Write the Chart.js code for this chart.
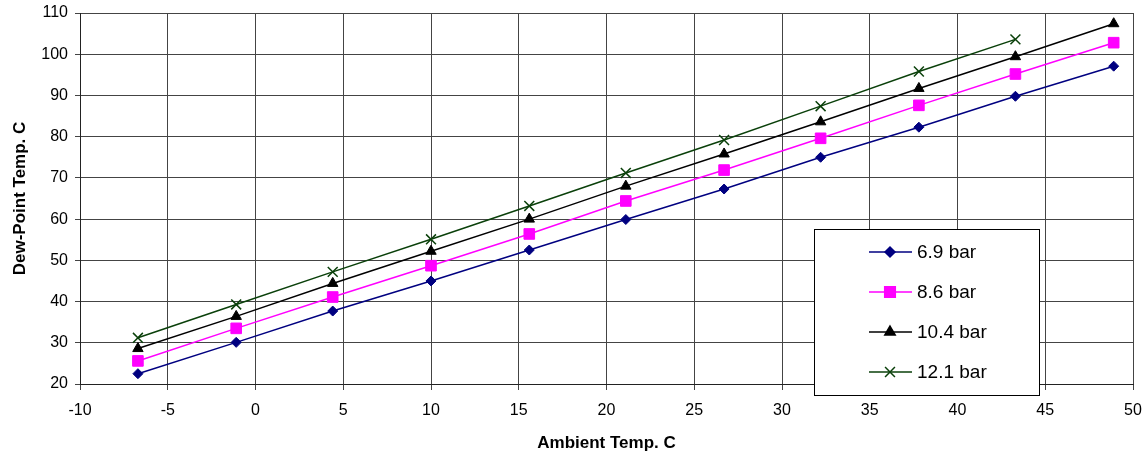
<!DOCTYPE html>
<html>
<head>
<meta charset="utf-8">
<script src="https://cdn.jsdelivr.net/npm/chart.js@4.4.1/dist/chart.umd.min.js"></script>
<style>
  html, body { margin: 0; padding: 0; background: #fff; }
  #wrap { width: 1147px; height: 455px; position: relative; }
</style>
</head>
<body>
<div id="wrap"><canvas id="dewChart" width="1147" height="455"></canvas></div>
<script>
// ambient temperature (C) -> dew-point temperature (C) per line pressure
const ambient = [-6.7, -1.1, 4.4, 10, 15.6, 21.1, 26.7, 32.2, 37.8, 43.3, 48.9];
const bar69 = [22.5, 30.1, 37.7, 45.0, 52.5, 59.9, 67.3, 75.0, 82.3, 89.8, 97.1];
const bar86 = [25.6, 33.5, 41.1, 48.7, 56.4, 64.4, 71.9, 79.6, 87.6, 95.2, 102.8];
const bar104 = [28.6, 36.4, 44.4, 52.2, 60.0, 68.0, 75.8, 83.6, 91.7, 99.4, 107.4];
const bar121 = [31.2, 39.3, 47.2, 55.1, 63.2, 71.2, 79.2, 87.4, 95.8, 103.6];
const seriesNames = ['6.9 bar', '8.6 bar', '10.4 bar', '12.1 bar'];

const xTicks = { min: -10, max: 50, step: 5 };
const yTicks = { min: 20, max: 110, step: 10 };

function pts(values) {
  return values.map(function (v, i) { return { x: ambient[i], y: v }; });
}

const styles = [
  { color: '#000080', pointStyle: 'rectRot', radius: 5 },
  { color: '#ff00ff', pointStyle: 'rect', radius: 7.5 },
  { color: '#000000', pointStyle: 'triangle', radius: 6 },
  { color: '#0a400a', pointStyle: 'crossRot', radius: 7 }
];

const allSeries = [bar69, bar86, bar104, bar121];

const data = {
  datasets: allSeries.map(function (vals, i) {
    const s = styles[i];
    return {
      label: seriesNames[i],
      data: pts(vals),
      borderColor: s.color,
      backgroundColor: s.color,
      borderWidth: 1.5,
      pointStyle: s.pointStyle,
      pointRadius: s.radius,
      pointBorderWidth: s.pointStyle === 'crossRot' ? 1.5 : 1,
      pointBorderColor: s.color,
      pointBackgroundColor: s.color,
      tension: 0
    };
  })
};

// legend box drawn by hand so it can sit over the lower right of the plot
const boxLegend = {
  id: 'boxLegend',
  afterDraw(chart) {
    const ctx = chart.ctx;
    const left = 814, top = 229, w = 225, h = 166;
    ctx.save();
    ctx.fillStyle = '#fff';
    ctx.fillRect(left, top, w, h);
    ctx.strokeStyle = '#000';
    ctx.lineWidth = 1;
    ctx.strokeRect(left + 0.5, top + 0.5, w, h);
    ctx.font = '19px "Liberation Sans", Arial, sans-serif';
    ctx.textBaseline = 'middle';
    ctx.textAlign = 'left';
    for (let i = 0; i < seriesNames.length; i++) {
      const s = styles[i];
      const y = 252 + i * 40;
      ctx.strokeStyle = s.color;
      ctx.lineWidth = 1.5;
      ctx.beginPath();
      ctx.moveTo(869, y);
      ctx.lineTo(912, y);
      ctx.stroke();
      ctx.fillStyle = s.color;
      Chart.helpers.drawPoint(ctx, {
        pointStyle: s.pointStyle,
        radius: s.radius,
        rotation: 0,
        borderWidth: s.pointStyle === 'crossRot' ? 1.5 : 1
      }, 890, y);
      ctx.fillStyle = '#000';
      ctx.fillText(seriesNames[i], 917, y + 1);
    }
    ctx.restore();
  }
};

const tickFont = { family: '"Liberation Sans", Arial, sans-serif', size: 16 };
const titleFont = { family: '"Liberation Sans", Arial, sans-serif', size: 17, weight: 'bold' };

const config = {
  type: 'line',
  data: data,
  options: {
    responsive: false,
    animation: false,
    layout: { padding: { left: 0, right: 14, top: 13, bottom: 0 } },
    plugins: {
      legend: { display: false },
      tooltip: { enabled: false }
    },
    scales: {
      x: {
        type: 'linear',
        min: xTicks.min,
        max: xTicks.max,
        afterFit(scale) { scale.height = 71; scale.paddingRight = 0; scale.paddingLeft = 0; },
        ticks: { stepSize: xTicks.step, color: '#000', font: tickFont, padding: 11, maxRotation: 0 },
        grid: { color: '#444', lineWidth: 1, tickLength: 6 },
        border: { color: '#222', width: 1 },
        title: { display: true, text: 'Ambient Temp. C', color: '#000', font: titleFont, padding: { top: 0, bottom: 1 } }
      },
      y: {
        min: yTicks.min,
        max: yTicks.max,
        afterFit(scale) { scale.width = 80; scale.paddingTop = 0; scale.paddingBottom = 0; },
        ticks: { stepSize: yTicks.step, color: '#000', font: tickFont, padding: 7 },
        grid: { color: '#444', lineWidth: 1, tickLength: 5 },
        border: { color: '#222', width: 1 },
        title: { display: true, text: 'Dew-Point Temp. C', color: '#000', font: titleFont, padding: { top: 10, bottom: 0 } }
      }
    }
  },
  plugins: [boxLegend]
};

const dewChart = new Chart(
  document.getElementById('dewChart'),
  config
);
</script>
</body>
</html>
